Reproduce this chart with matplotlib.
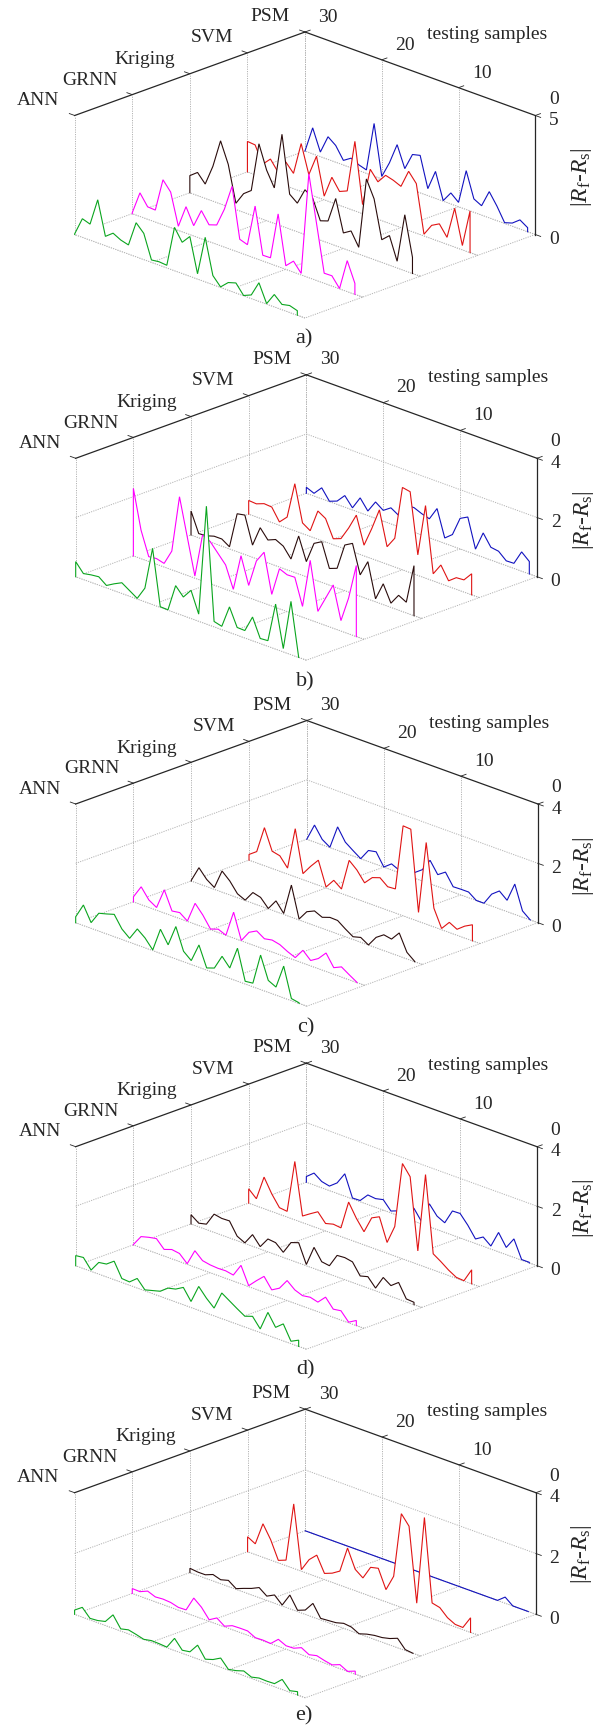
#!python
import numpy as np
import matplotlib
matplotlib.use('Agg')
from matplotlib import pylab as plt
from mpl_toolkits.mplot3d import proj3d
from mpl_toolkits.mplot3d.art3d import Poly3DCollection

plt.rcParams['font.family'] = ['Liberation Serif', 'DejaVu Serif']
plt.rcParams['mathtext.fontset'] = 'custom'
plt.rcParams['mathtext.rm'] = 'Liberation Serif'
plt.rcParams['mathtext.it'] = 'Liberation Serif:italic'

# methods, from the left corner to the back corner
methods = ['ANN', 'GRNN', 'Kriging', 'SVM', 'PSM']
colors = ['#0aa51e', '#ff00ff', '#2a0c0c', '#e01414', '#1212c0']
samples = np.arange(30, 0, -1)
x_ticks = [10, 20, 30]
panel_names = ['a)', 'b)', 'c)', 'd)', 'e)']
z_max = [5, 4, 4, 4, 4]

# values, sample 30 first
ann_a = [.03,.78,.67,1.81,.39,.64,.47,.38,1.43,1.10,.10,.14,.11,1.82,1.31,1.67,.22,1.87,.38,.02,.32,.42,.01,.15,.78,.02,.52,.22,.29,.19]
grnn_a = [.04,.99,.52,.50,1.89,1.49,.17,1.11,.43,1.18,.70,.81,1.59,2.67,.56,.45,2.19,.24,.25,2.21,.15,.46,.06,4.37,2.40,.42,.43,.01,1.30,.46]
kriging_a = [.72,.97,.60,1.46,2.65,1.78,.26,.78,1.03,3.11,2.12,1.49,3.86,1.46,1.20,1.88,1.64,.81,.92,1.98,.65,.85,.28,3.27,2.55,.95,1.24,.28,2.35,.68]
svm_a = [1.28,1.25,.56,.89,.45,1.0,.64,2.01,.82,1.71,.15,1.06,.58,.72,2.92,.38,1.98,1.57,1.96,1.87,1.73,2.48,2.08,.07,.56,.74,.29,1.63,.18,1.75]
psm_a = [0,1.09,.19,.95,.70,.19,.40,.24,.14,2.21,.10,.79,1.67,.78,1.49,1.57,.29,1.13,.02,.46,.18,1.63,.56,.39,1.10,.61,.03,.13,.38,.17]

ann_b = [.51,.20,.25,.28,.08,.23,.36,.19,.02,.46,1.90,.02,.01,.92,.63,.95,.24,3.98,.18,.11,.86,.26,.25,.80,.17,.19,1.52,.11,1.80,.01]
grnn_b = [2.28,.96,.16,.19,.12,.63,2.56,1.31,.07,1.55,1.42,1.12,.82,.09,1.32,.41,1.33,1.72,.39,1.35,1.24,1.25,.36,2.01,.38,.92,1.46,.35,1.21,2.40]
kriging_b = [.81,.14,.16,.24,.24,.07,1.28,1.33,.41,1.09,.77,.88,.75,.41,1.28,.51,1.22,1.37,.56,.66,1.54,1.69,.72,1.26,.10,.70,.14,.50,.36,1.69]
svm_b = [.46,.44,.54,.52,.11,.37,1.59,.36,.19,.95,.79,.20,.30,.75,1.28,.36,1.01,1.74,.59,.97,2.78,2.73,.69,2.45,.24,.63,.19,.39,.41,.71]
psm_b = [.20,.09,.37,.01,.11,.39,.07,.50,.15,.55,.36,.54,.38,.81,.83,.72,.64,1.08,.18,.39,1.03,1.17,.18,.82,.43,.39,.16,.17,.65,.42]

ann_c = [.20,.69,.19,.60,.67,.75,.35,.13,.54,.33,.02,.81,.38,1.09,.35,.13,.75,.07,.16,.65,.35,1.11,.09,.12,1.16,.40,.27,1.07,.07,.02]
grnn_c = [.17,.60,.25,.09,.78,.16,.20,.01,.70,.40,.02,.11,0,.87,.01,.38,.52,.35,.40,.34,.20,.09,.43,.18,.34,.62,.22,.34,.17,.01]
kriging_c = [.02,.54,.24,.06,.71,.47,.13,.01,.36,.29,.01,.36,.03,1.08,.03,.37,.49,.37,.46,.45,.26,.09,.16,0,.35,.53,.48,.78,.22,.01]
svm_c = [.19,.38,1.28,.58,.52,.20,1.62,.20,.54,.84,.03,.35,.15,1.21,.98,.64,.91,1.0,.79,.81,3.03,3.01,.30,2.75,.63,.04,.34,.20,.40,.54]
psm_c = [0,.57,.18,.01,.79,.37,.18,0,.37,.42,0,.20,.08,.51,.19,.38,.79,.40,.58,.18,.19,.19,0,0,.40,.60,.38,1.02,.21,0]

ann_d = [.34,.37,.04,.39,.43,.62,.13,.11,.32,.03,.10,.17,.37,.43,.58,.20,.80,.50,.26,.86,.69,.52,.36,.45,.12,.77,.36,.57,.08,.21]
grnn_d = [.01,.37,.44,.49,.22,.31,.27,.02,.55,.31,.26,.24,.25,.20,.62,.03,.29,.53,.17,.32,.67,.45,.35,.39,.32,.58,.27,.31,.02,.17]
kriging_d = [.31,.12,.18,.61,.56,.57,.15,.02,.39,.08,.43,.40,.17,.59,.68,.04,.71,.32,.28,.72,.74,.69,.31,.38,.09,.54,.36,.56,.10,.08]
svm_d = [.48,.24,1.06,.59,.22,.19,1.96,.22,.39,.55,.25,.32,.29,1.25,.80,.44,1.0,1.13,.36,.99,3.20,2.85,.45,3.11,.54,.37,.18,.03,.01,.47]
psm_d = [.19,.40,.21,.15,.35,.75,.03,.04,.32,.29,.35,.06,.16,.49,.43,.07,.77,.45,.32,.81,.82,.52,.15,.31,.10,.65,.24,.62,.02,.02]

ann_e = [.14,.32,.05,.07,.13,.44,.07,.13,.07,0,.05,.04,.02,.40,.10,.14,.45,.08,.16,.30,.02,.07,.15,.04,.10,.09,.10,.33,.05,.11]
grnn_e = [.16,.15,.26,.16,.18,.16,.09,.10,.58,.37,.05,.20,.02,.13,.14,.14,.01,.02,0,.23,.11,.12,.23,.09,.15,.08,.03,.13,0,.10]
kriging_e = [.14,.11,.11,.21,.13,.20,.02,.12,.21,.33,.14,.27,.03,.45,.04,.14,.45,.05,.07,.09,.16,.13,0,.08,.13,.15,.21,.31,.03,0]
svm_e = [.49,.35,1.10,.67,.08,.18,2.12,.05,.47,.71,.20,.30,.46,1.31,.70,.51,.95,1.01,.40,.93,3.08,2.76,.32,3.23,.51,.45,.21,.08,.07,.48]
psm_e = [0,0,0,0,0,0,0,0,0,0,0,0,0,0,0,0,0,0,0,0,0,0,0,0,0,0,.20,0,0,0]

panels = [
	[ann_a, grnn_a, kriging_a, svm_a, psm_a],
	[ann_b, grnn_b, kriging_b, svm_b, psm_b],
	[ann_c, grnn_c, kriging_c, svm_c, psm_c],
	[ann_d, grnn_d, kriging_d, svm_d, psm_d],
	[ann_e, grnn_e, kriging_e, svm_e, psm_e],
]

# where each box sits on the page, in pixels from the top left
left_px = [74.7, 75.7, 75.7, 75.7, 74.6]
right_px = [535.3, 537.0, 537.9, 537.0, 535.9]
top_px = [115.5, 458.3, 804.0, 1146.7, 1492.7]
floor_px = [234.5, 576.7, 922.7, 1265.7, 1614.3]
floor_height = 167.0

W, H = 608, 1727
fig = plt.figure(figsize=(W/100, H/100), dpi=100)

GRID = dict(color='#b4b4b4', lw=0.7, ls=(0, (1.2, 1.2)), zorder=1, clip_on=False)
AXIS = dict(color='#262626', lw=0.9, zorder=30, clip_on=False)
TICK = dict(color='#262626', lw=0.6, zorder=30, clip_on=False)


def to_px(ax, x, y, z):
	xs, ys, _ = proj3d.proj_transform(x, y, z, ax.get_proj())
	p = ax.transData.transform((xs, ys))
	return p[0], H - p[1]


def put_text(x, y, s, **kw):
	fig.text(x/W, 1 - y/H, s, ha='center', va='center', color='#262626', **kw)


for n in range(5):
	zm = z_max[n]
	width = right_px[n] - left_px[n]
	height = floor_px[n] - top_px[n]
	elev = np.degrees(np.arcsin(floor_height/width))
	ax = fig.add_axes([0, 0, 1, 1], projection='3d', proj_type='ortho', computed_zorder=False)
	ax.set_axis_off()
	# the axes overlap, the next one must not paint over this one
	ax.patch.set_visible(False)
	ax.set_xlim(0, 30)
	ax.set_ylim(0, 4)
	ax.set_zlim(0, zm)
	ax.view_init(elev=elev, azim=135)
	ax.set_box_aspect((1, 1, height/width*np.sqrt(2)/np.cos(np.radians(elev))))

	# size the axes so the box lands on its pixels
	size = 600.0
	ax.set_position([0.1, 0.1, size/W, size/H])
	fig.canvas.draw()
	x0, y0 = to_px(ax, 30, 4, zm)
	x1, y1 = to_px(ax, 0, 0, zm)
	size = size*width/(x1 - x0)
	ax.set_position([0.1, 0.1, size/W, size/H])
	fig.canvas.draw()
	x0, y0 = to_px(ax, 30, 4, zm)
	ax.set_position([0.1 + (left_px[n] - x0)/W, 0.1 - (top_px[n] - y0)/H, size/W, size/H])

	# walls and floor grid
	for k in range(5):
		ax.plot([30, 30], [k, k], [0, zm], **GRID)
		ax.plot([0, 30], [k, k], [0, 0], **GRID)
	for t in x_ticks:
		ax.plot([t, t], [0, 0], [0, zm], **GRID)
	for t in [0] + x_ticks:
		ax.plot([t, t], [0, 4], [0, 0], **GRID)
	if zm == 4:
		ax.plot([30, 30], [4, 0], [2, 2], **GRID)
		ax.plot([30, 0], [0, 0], [2, 2], **GRID)

	# curves, far one first, each with a white curtain under it
	for m in range(4, -1, -1):
		y_pos = 4 - m
		vals = np.array(panels[n][m])
		xs = np.r_[samples[0], samples, samples[-1]]
		zs = np.r_[0, vals, 0]
		verts = list(zip(xs, np.full(len(xs), y_pos), zs))
		poly = Poly3DCollection([verts], facecolors='white', edgecolors='none', zorder=5 + 2*(4 - m))
		poly.set_clip_on(False)
		ax.add_collection3d(poly, autolim=False)
		ax.plot(xs, np.full(len(xs), y_pos), zs, color=colors[m], lw=0.8, zorder=6 + 2*(4 - m),
			solid_joinstyle='miter', clip_on=False)
		# the base line stays visible in front of its own curtain
		ax.plot([0, 30], [y_pos, y_pos], [0, 0], color='#b4b4b4', lw=0.7, ls=(0, (1.2, 1.2)),
			zorder=5 + 2*(4 - m), clip_on=False)

	# box edges and ticks
	ax.plot([0, 30], [0, 0], [zm, zm], **AXIS)
	ax.plot([30, 30], [0, 4], [zm, zm], **AXIS)
	ax.plot([0, 0], [0, 0], [0, zm], **AXIS)
	for k in range(5):
		ax.plot([30, 30.7], [k, k], [zm, zm], **TICK)
	for t in [0] + x_ticks:
		ax.plot([t, t], [0, -0.09], [zm, zm], **TICK)
	for zt in ([0, 5] if zm == 5 else [0, 2, 4]):
		ax.plot([0, -0.7], [0, 0], [zt, zt], **TICK)

	# labels, placed relative to the back corner
	ax_x = (left_px[n] + right_px[n])/2
	ax_y = top_px[n] - floor_height/2
	for name, dx, dy in zip(methods, [-266.8, -215, -160, -93, -34.6], [68.7, 48.3, 27.7, 6, -15.3]):
		put_text(ax_x + dx, ax_y + dy, name, fontsize=14)
	for t, dx, dy in zip([30, 20, 10], [23.3, 99.8, 177], [-15, 13, 41]):
		put_text(ax_x + dx, ax_y + dy, str(t), fontsize=14)
	put_text(ax_x + 182, ax_y + 2.7, 'testing samples', fontsize=14)
	put_text(right_px[n] + 18.6, top_px[n] - 16.5, '0', fontsize=14)
	for zt in ([0, 5] if zm == 5 else [0, 2, 4]):
		put_text(right_px[n] + 18.6, floor_px[n] - height*zt/zm + 5, str(zt), fontsize=14)
	put_text(right_px[n] + 46, top_px[n] + 62, r'$|R_{\mathrm{f}}$-$R_{\mathrm{s}}|$', fontsize=17, rotation=90)
	put_text(ax_x - 1, ax_y + 307, panel_names[n], fontsize=16)

fig.savefig('out.png', dpi=100)
